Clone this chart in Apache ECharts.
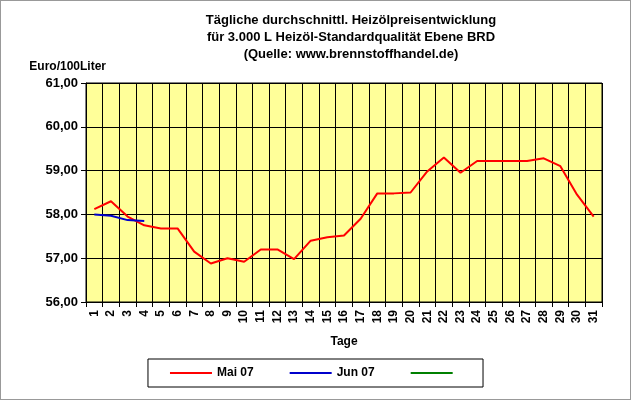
<!DOCTYPE html>
<html><head><meta charset="utf-8">
<script src="https://cdn.jsdelivr.net/npm/echarts@6/dist/echarts.min.js"></script>
<style>body{margin:0}#c{width:631px;height:400px;box-sizing:border-box;border:1px solid #999}</style>
</head><body><div id="c"></div>
<script>
var days = [];
for (var i = 1; i <= 31; i++) days.push(String(i));
var mai07 = [58.12, 58.3, 57.95, 57.75, 57.68, 57.68, 57.15, 56.88, 57.0, 56.92, 57.2, 57.2, 56.98, 57.4, 57.48, 57.52, 57.9, 58.48, 58.48, 58.5, 58.98, 59.3, 58.95, 59.22, 59.22, 59.22, 59.22, 59.28, 59.1, 58.45, 57.95];
var jun07 = [58.0, 57.97, 57.87, 57.85];
var third = [];

var chart = echarts.init(document.getElementById('c'));
var font = 'Arial, "Liberation Sans", sans-serif';
chart.setOption({
    title: {
        text: 'Tägliche durchschnittl. Heizölpreisentwicklung\nfür 3.000 L Heizöl-Standardqualität Ebene BRD\n(Quelle: www.brennstoffhandel.de)',
        left: 345, top: 6, textAlign: 'center',
        textStyle: {fontSize: 13, fontWeight: 'bold', fontFamily: font, lineHeight: 17, color: '#000'}
    },
    legend: {
        bottom: 12, left: 'center', itemGap: 36, itemWidth: 42, itemHeight: 2,
        borderColor: '#000', borderWidth: 1, padding: [8, 22],
        icon: 'rect',
        textStyle: {fontSize: 12, fontWeight: 'bold', fontFamily: font, color: '#000'},
        data: ['Mai 07', 'Jun 07', ' ']
    },
    grid: {left: 85, right: 28, top: 82, bottom: 97, backgroundColor: '#FFFF99', show: true, borderColor: '#000', borderWidth: 1},
    xAxis: {
        type: 'category', data: days, boundaryGap: true,
        name: 'Tage', nameLocation: 'middle', nameGap: 34,
        nameTextStyle: {fontSize: 12, fontWeight: 'bold', fontFamily: font},
        axisLine: {lineStyle: {color: '#000'}},
        axisTick: {show: true, alignWithLabel: false, lineStyle: {color: '#000'}},
        axisLabel: {rotate: 90, interval: 0, fontSize: 12, fontWeight: 'bold', fontFamily: font, color: '#000'},
        splitLine: {show: true, interval: 0, lineStyle: {color: '#000'}}
    },
    yAxis: {
        type: 'value', min: 56, max: 61, interval: 1,
        name: 'Euro/100Liter', nameLocation: 'end', nameGap: 10,
        nameTextStyle: {fontSize: 12, fontWeight: 'bold', fontFamily: font, align: 'right', padding: [0, -20, 0, 0]},
        axisLine: {show: true, lineStyle: {color: '#000'}},
        axisTick: {show: true},
        axisLabel: {fontSize: 13, fontWeight: 'bold', fontFamily: font, color: '#000',
            formatter: function (v) { return v.toFixed(2).replace('.', ','); }},
        splitLine: {lineStyle: {color: '#000'}}
    },
    series: [
        {name: 'Mai 07', type: 'line', data: mai07, symbol: 'none', color: '#FF0000', lineStyle: {width: 2}},
        {name: 'Jun 07', type: 'line', data: jun07, symbol: 'none', color: '#0000CC', lineStyle: {width: 2}},
        {name: ' ', type: 'line', data: third, symbol: 'none', color: '#008000', lineStyle: {width: 2}}
    ]
});
</script></body></html>
